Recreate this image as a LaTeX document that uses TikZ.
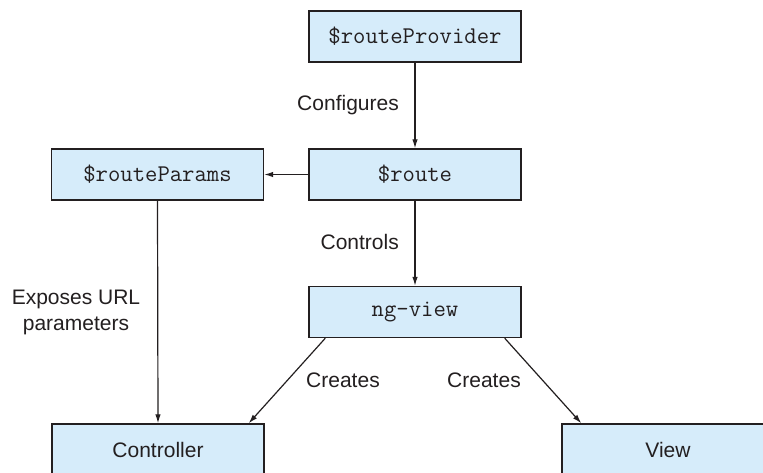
\documentclass[tikz,border=0pt]{standalone}
\usepackage{fontspec}
\setmainfont{Liberation Sans}
\usetikzlibrary{arrows.meta}
\definecolor{boxfill}{RGB}{214,236,250}
\definecolor{ink}{RGB}{35,31,32}
\begin{document}
\begin{tikzpicture}[x=1pt,y=-1pt,
  box/.style={draw=ink, fill=boxfill, line width=1.4pt, minimum width=212pt, minimum height=51pt, inner sep=0pt, text=ink, font=\fontsize{21}{25}\selectfont},
  codebox/.style={box, font=\fontsize{24}{28}\selectfont\ttfamily},
  lbl/.style={text=ink, font=\fontsize{21}{26}\selectfont, inner sep=0pt},
  conn/.style={draw=ink, line width=1.2pt, -{Latex[length=9pt,width=5.5pt]}}]
\path[use as bounding box, clip] (0,0) rectangle (763,472);
\fill[white] (0,0) rectangle (763,472);
\node[codebox] (rp) at (415,36.5) {\$routeProvider};
\node[codebox] (route) at (415,174.5) {\$route};
\node[codebox] (params) at (157.5,174.5) {\$routeParams};
\node[codebox] (ngview) at (415,312) {ng-view};
\node[box] (ctrl) at (158,449.5) {Controller};
\node[box] (view) at (668,449.5) {View};
\draw[conn] (rp.south) -- (route.north);
\draw[conn] (route.west) -- (params.east);
\draw[conn] (route.south) -- (ngview.north);
\draw[conn] (params.south) -- (ctrl.north);
\draw[conn] ([xshift=17pt]ngview.south west) -- ([xshift=-16pt]ctrl.north east);
\draw[conn] ([xshift=-17pt]ngview.south east) -- ([xshift=20pt]view.north west);
\node[lbl, anchor=east] (configures) at (399,105) {Configures};
\node[lbl, anchor=east] (controls) at (399,242) {Controls};
\node[lbl, align=center] (exposes) at (76,312) {Exposes URL\\parameters};
\node[lbl] (creates1) at (343,380) {Creates};
\node[lbl] (creates2) at (484,380) {Creates};
\end{tikzpicture}
\end{document}
